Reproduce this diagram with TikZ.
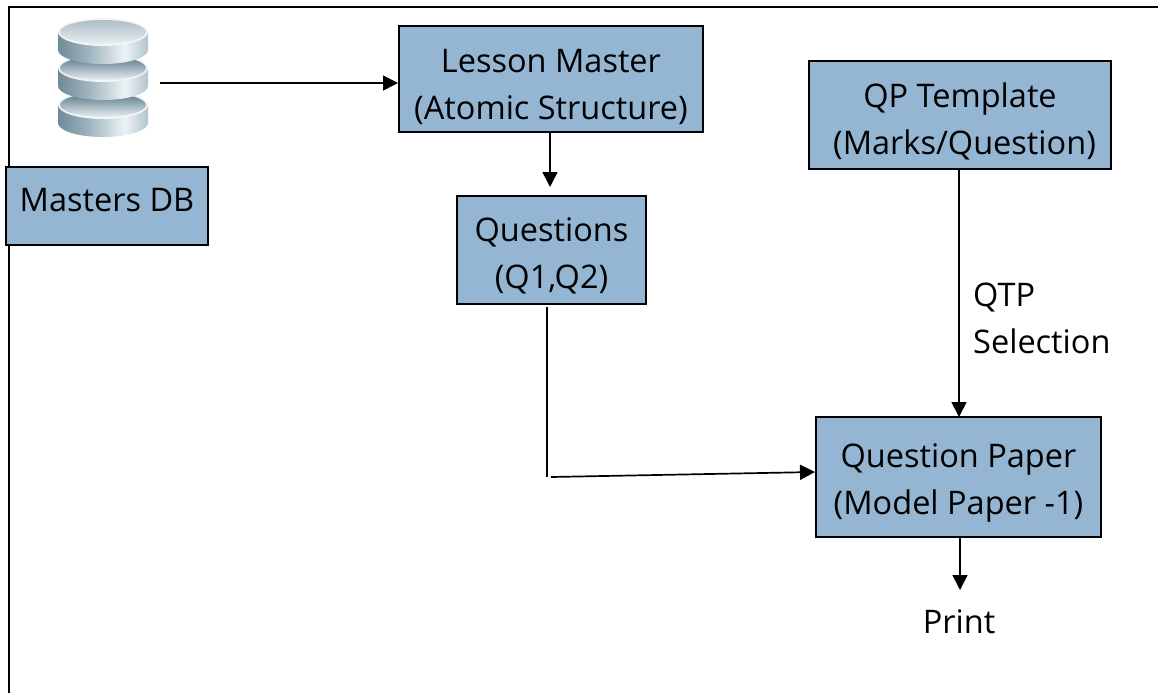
\documentclass[tikz,border=0pt]{standalone}
\usepackage{fontspec}
\setmainfont{Open Sans}
\usetikzlibrary{arrows.meta}
\definecolor{boxblue}{RGB}{148,182,210}
\definecolor{diskin}{RGB}{88,118,135}
\definecolor{disktop}{RGB}{176,190,198}
\definecolor{disklight}{RGB}{232,238,241}
\pgfdeclarehorizontalshading{diskside}{100bp}{
	rgb(0bp)=(.44,.54,.60); rgb(25bp)=(.44,.54,.60); rgb(42bp)=(.62,.71,.75);
	rgb(62bp)=(.93,.95,.96); rgb(75bp)=(.70,.77,.81); rgb(100bp)=(.44,.54,.60)}
\newcommand{\padtop}[1]{\rule{0pt}{#1}}
\newcommand{\padlow}[1]{\rule[-#1]{0pt}{#1}}
\tikzset{
	block/.style={draw=black, line width=2pt, fill=boxblue, align=center, inner sep=0pt, font=\fontsize{32.5}{47}\selectfont},
	label/.style={align=left, anchor=west, inner sep=0pt, font=\fontsize{32.5}{47}\selectfont},
	link/.style={line width=1.7pt},
	flow/.style={link, -{Triangle[length=15pt, width=15pt]}}
}
\begin{document}
\begin{tikzpicture}[x=1pt, y=-1pt]
		\useasboundingbox (0, 0) rectangle (1158, 693);
		\draw [line width=2.2pt] (9, 693) -- (9, 7) -- (1158, 7);
		% database icon, bottom disk first
		\foreach \y/\c in {105/diskin, 68/diskin, 32/disktop} {
			\shade [shading=diskside] (58, \y) -- (58, \y+18) arc [start angle=180, end angle=0, x radius=45, y radius=14] -- (148, \y) -- cycle;
			\fill [white!92!diskin] (103, \y) ellipse [x radius=45, y radius=14];
			\shade [top color=\c, bottom color=disklight] (103, \y) ellipse [x radius=43, y radius=12];
		}
		\node [block, minimum width=202pt, minimum height=78pt] (masters) at (107, 206) {\padlow{12pt}Masters DB};
		\node [block, minimum width=304pt, minimum height=106pt] (lesson) at (551, 79) {\padtop{39pt}Lesson Master\\(Atomic Structure)};
		\node [block, minimum width=189pt, minimum height=108pt] (questions) at (551.5, 250) {\padtop{36pt}Questions\\(Q1,Q2)};
		\node [block, minimum width=302pt, minimum height=108pt] (template) at (960, 115) {\padtop{37pt}QP Template\\\hspace*{9pt}(Marks/Question)};
		\node [block, minimum width=285pt, minimum height=120pt] (paper) at (958.5, 477) {\padtop{35pt}Question Paper\\(Model Paper -1)};
		\node [label] (selection) at (973, 318) {QTP\\Selection};
		\node [inner sep=0pt, font=\fontsize{32.5}{47}\selectfont] (print) at (959, 622) {Print};
		\coordinate (dbout) at (160, 83);
		\coordinate (lessonin) at (lesson.west |- dbout);
		\coordinate (bendtop) at (547, 307);
		\coordinate (bendlow) at (547, 477);
		\coordinate (bendout) at (551, 477);
		\coordinate (paperin) at (paper.west |- 0, 472);
		\draw [flow] (dbout) -- (lessonin);
		\draw [flow] (lesson.south -| 550, 0) -- (550, 187);
		\draw [link] (bendtop) -- (bendlow);
		\draw [flow] (bendout) -- (paperin);
		\draw [flow] (template.south -| 959, 0) -- (959, 417);
		\draw [flow] (paper.south -| 960, 0) -- (960, 590);
	\end{tikzpicture}
\end{document}
